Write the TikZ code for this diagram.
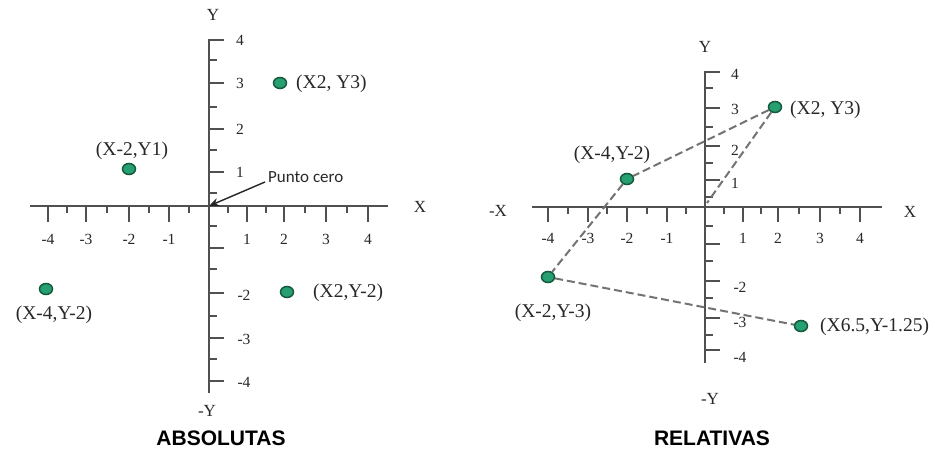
\documentclass[tikz,border=0pt]{standalone}
\usepackage{fontspec}
\setmainfont{Liberation Serif}
\newfontfamily\titlefont{Liberation Sans}
\newfontfamily\puntofont{Carlito}
\usetikzlibrary{shapes.geometric,arrows.meta}
\definecolor{axisc}{RGB}{80,80,80}
\definecolor{dotfill}{RGB}{38,160,112}
\definecolor{dotline}{RGB}{22,90,62}
\definecolor{dashc}{RGB}{115,115,115}
\definecolor{txt}{RGB}{40,40,40}
\begin{document}
\begin{tikzpicture}[x=1pt,y=-1pt,
  axis/.style={draw=axisc,line width=2.4pt},
  tk/.style={draw=axisc,line width=2pt},
  tl/.style={text=txt,font=\fontsize{15.5}{15.5}\selectfont,inner sep=0pt},
  plab/.style={text=txt,font=\fontsize{19.5}{19.5}\selectfont,inner sep=0pt},
  axlab/.style={text=txt,font=\fontsize{17}{17}\selectfont,inner sep=0pt},
  title/.style={text=black,font=\titlefont\bfseries\fontsize{21}{21}\selectfont,inner sep=0pt},
  pt/.style={ellipse,draw=dotline,fill=dotfill,line width=1.5pt,minimum width=13pt,minimum height=11pt,inner sep=0pt},
  link/.style={draw=dashc,line width=2pt,dash pattern=on 8pt off 4pt}
]
\useasboundingbox (0,0) rectangle (935,450);
\fill[white] (0,0) rectangle (935,450);

% ================= LEFT: ABSOLUTAS =================
\coordinate (oL) at (209,206);
\draw[axis] (30,206) -- (388,206);
\draw[axis] (209,39) -- (209,393);
\foreach \x in {48,86,129,169,247,284,326,368} \draw[tk] (\x,206) -- (\x,222);
\foreach \x in {67,107,149,189,228,266,305,347} \draw[tk] (\x,206) -- (\x,213);
\foreach \y in {40,83,129,172,248,293,338,381} \draw[tk] (209,\y) -- (224,\y);
\foreach \y in {60,107,150,193,226,269,316,359} \draw[tk] (209,\y) -- (217,\y);
\foreach \x/\l in {48/-4,86/-3,129/-2,169/-1,247/1,284/2,326/3,368/4}
  \node[tl] at (\x,239) {\l};
\foreach \y/\l in {40/4,83/3,129/2,172/1} \node[tl] at (240,\y) {\l};
\foreach \y/\l in {295/-2,339/-3,382/-4} \node[tl] at (244,\y) {\l};
\node[axlab] (lY) at (213,15) {Y};
\node[axlab] (lX) at (420,207) {X};
\node[axlab] (lmY) at (207,411) {-Y};
\node[title] (tA) at (221,438) {ABSOLUTAS};

\node[pt] (a1) at (280,83) {};
\node[plab,anchor=west] (a1l) at (296,84) {(X2, Y3)};
\node[pt] (a2) at (129,169) {};
\node[plab] (a2l) at (132,151) {(X-2,Y1)};
\node[pt] (a3) at (46,289) {};
\node[plab] (a3l) at (54,315) {(X-4,Y-2)};
\node[pt] (a4) at (287,292) {};
\node[plab,anchor=west] (a4l) at (313,293) {(X2,Y-2)};

\node[text=txt,font=\puntofont\fontsize{17}{17}\selectfont,inner sep=0pt,anchor=west] (pc) at (268,177) {Punto cero};
\coordinate (pcTail) at (265,182);
\draw[draw=black!85,line width=1.4pt,-{Stealth[length=10pt,width=8pt]}] (pcTail) -- (oL);

% ================= RIGHT: RELATIVAS =================
\coordinate (oR) at (705,207);
\draw[axis] (532,207) -- (882,207);
\draw[axis] (705,71) -- (705,363);
\foreach \x in {548,588,627,667,743,778,820,860} \draw[tk] (\x,207) -- (\x,222);
\foreach \x in {568,607,647,686,724,761,799,840} \draw[tk] (\x,207) -- (\x,214);
\foreach \y in {72,108,146,180,244,281,318,350} \draw[tk] (705,\y) -- (720,\y);
\foreach \y in {88,127,163,197,226,261,298,335} \draw[tk] (705,\y) -- (713,\y);
\foreach \x/\l in {548/-4,588/-3,627/-2,667/-1,743/1,778/2,820/3,860/4}
  \node[tl] at (\x,238) {\l};
\foreach \y/\l in {74/4,109/3,150/2,183/1} \node[tl] at (735,\y) {\l};
\foreach \y/\l in {287/-2,322/-3,357/-4} \node[tl] at (740,\y) {\l};
\node[axlab] (rY) at (705,47) {Y};
\node[axlab] (rmX) at (498,211) {-X};
\node[axlab] (rX) at (910,212) {X};
\node[axlab] (rmY) at (710,399) {-Y};
\node[title] (tR) at (712,438) {RELATIVAS};

\node[pt] (b1) at (775,107) {};
\node[plab,anchor=west] (b1l) at (790,110) {(X2, Y3)};
\node[pt] (b2) at (627,179) {};
\node[plab] (b2l) at (612,155) {(X-4,Y-2)};
\node[pt] (b3) at (548,277) {};
\node[plab] (b3l) at (553,313) {(X-2,Y-3)};
\node[pt] (b4) at (801,326) {};
\node[plab,anchor=west] (b4l) at (820,327) {(X6.5,Y-1.25)};

\coordinate (oRtip) at (707,203);
\draw[link] (b1) -- (b2);
\draw[link] (b1) -- (oRtip);
\draw[link] (b2) -- (b3);
\draw[link] (b3) -- (b4);
\end{tikzpicture}
\end{document}
